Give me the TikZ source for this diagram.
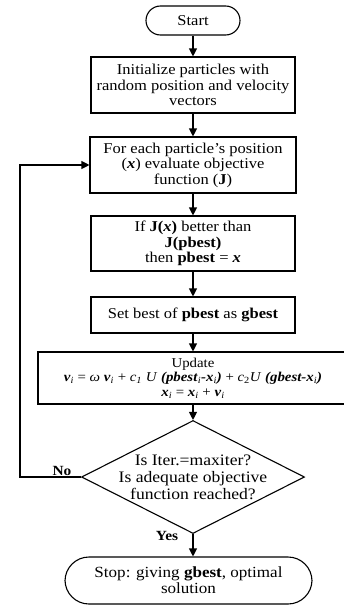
\documentclass[tikz,border=0pt]{standalone}
\usepackage{fontspec}
\setmainfont[FakeStretch=1.1]{Liberation Serif}
\usetikzlibrary{arrows.meta,shapes.geometric}
\newcommand\bfitx[1]{\textbf{\textit{#1}}}
\newcommand\sbi[1]{\textsubscript{\textit{#1}}}
\begin{document}
\begin{tikzpicture}[x=1pt,y=-1pt,
  line width=1.1pt,
  box/.style={draw,rectangle,inner sep=0pt,align=center,font=\fontsize{15}{15.5}\selectfont},
  term/.style={draw,rectangle,inner sep=0pt,align=center},
  arr/.style={-{Triangle[width=8pt,length=8pt]}},
  lbl/.style={font=\fontsize{14}{14}\selectfont\bfseries,inner sep=0pt}]
\useasboundingbox (0,0) rectangle (343,605);
\fill[white] (0,0) rectangle (343,605);

\node[term,rounded corners=14.5pt,minimum width=94pt,minimum height=29pt,font=\fontsize{15}{15}\selectfont] (start) at (193,20.5) {Start};
\node[box,minimum width=204pt,minimum height=56pt] (init) at (193,85)
  {Initialize particles with\\random position and velocity\\vectors};
\node[box,minimum width=206pt,minimum height=56pt] (eval) at (193,165)
  {For each particle's position\\(\bfitx{x}) evaluate objective\\function (\textbf{J})};
\node[box,minimum width=204pt,minimum height=55pt] (pb) at (193,243.5)
  {If \textbf{J(}\bfitx{x}\textbf{)} better than\\\textbf{J(pbest)}\\then \textbf{pbest} = \bfitx{x}};
\node[box,minimum width=204pt,minimum height=36pt] (gb) at (193,315)
  {Set best of \textbf{pbest} as \textbf{gbest}};
\node[box,minimum width=310pt,minimum height=52pt,font=\fontsize{13.5}{14.5}\selectfont] (upd) at (193,378)
  {Update\\
   \bfitx{v}\sbi{i} = \textit{ω} \bfitx{v}\sbi{i} + \textit{c}\sbi{1} \textit{U} \bfitx{(pbest}\sbi{i}\bfitx{-x}\sbi{i}\bfitx{)} + \textit{c}\textsubscript{2}\textit{U} \bfitx{(gbest-x}\sbi{i}\bfitx{)}\\
   \bfitx{x}\sbi{i} = \bfitx{x}\sbi{i} + \bfitx{v}\sbi{i}};
\node[draw,diamond,inner sep=0pt,minimum width=223pt,minimum height=113pt] (dec) at (193,477) {};
\node[align=center,inner sep=0pt,font=\fontsize{16}{17}\selectfont] (dect) at (dec.center)
  {Is Iter.=maxiter?\\Is adequate objective\\function reached?};
\node[term,rounded corners=24pt,minimum width=247pt,minimum height=47pt,font=\fontsize{15.5}{16}\selectfont] (stop) at (188.5,580.5)
  {Stop: giving \textbf{gbest}, optimal\\solution};

\coordinate (c1) at (20,477);
\coordinate (c2) at (20,165);

\draw[arr] (start) -- (init);
\draw[arr] (init) -- (eval);
\draw[arr] (eval) -- (pb);
\draw[arr] (pb) -- (gb);
\draw[arr] (gb) -- (upd);
\draw[arr] (upd) -- (dec.north);
\draw[arr] (dec.south) -- (dec.south |- stop.north);
\draw[arr] (dec.west) -- (c1) -- (c2) -- (eval.west);

\node[lbl] (no) at (62,471) {No};
\node[lbl] (yes) at (167,536) {Yes};
\end{tikzpicture}
\end{document}
